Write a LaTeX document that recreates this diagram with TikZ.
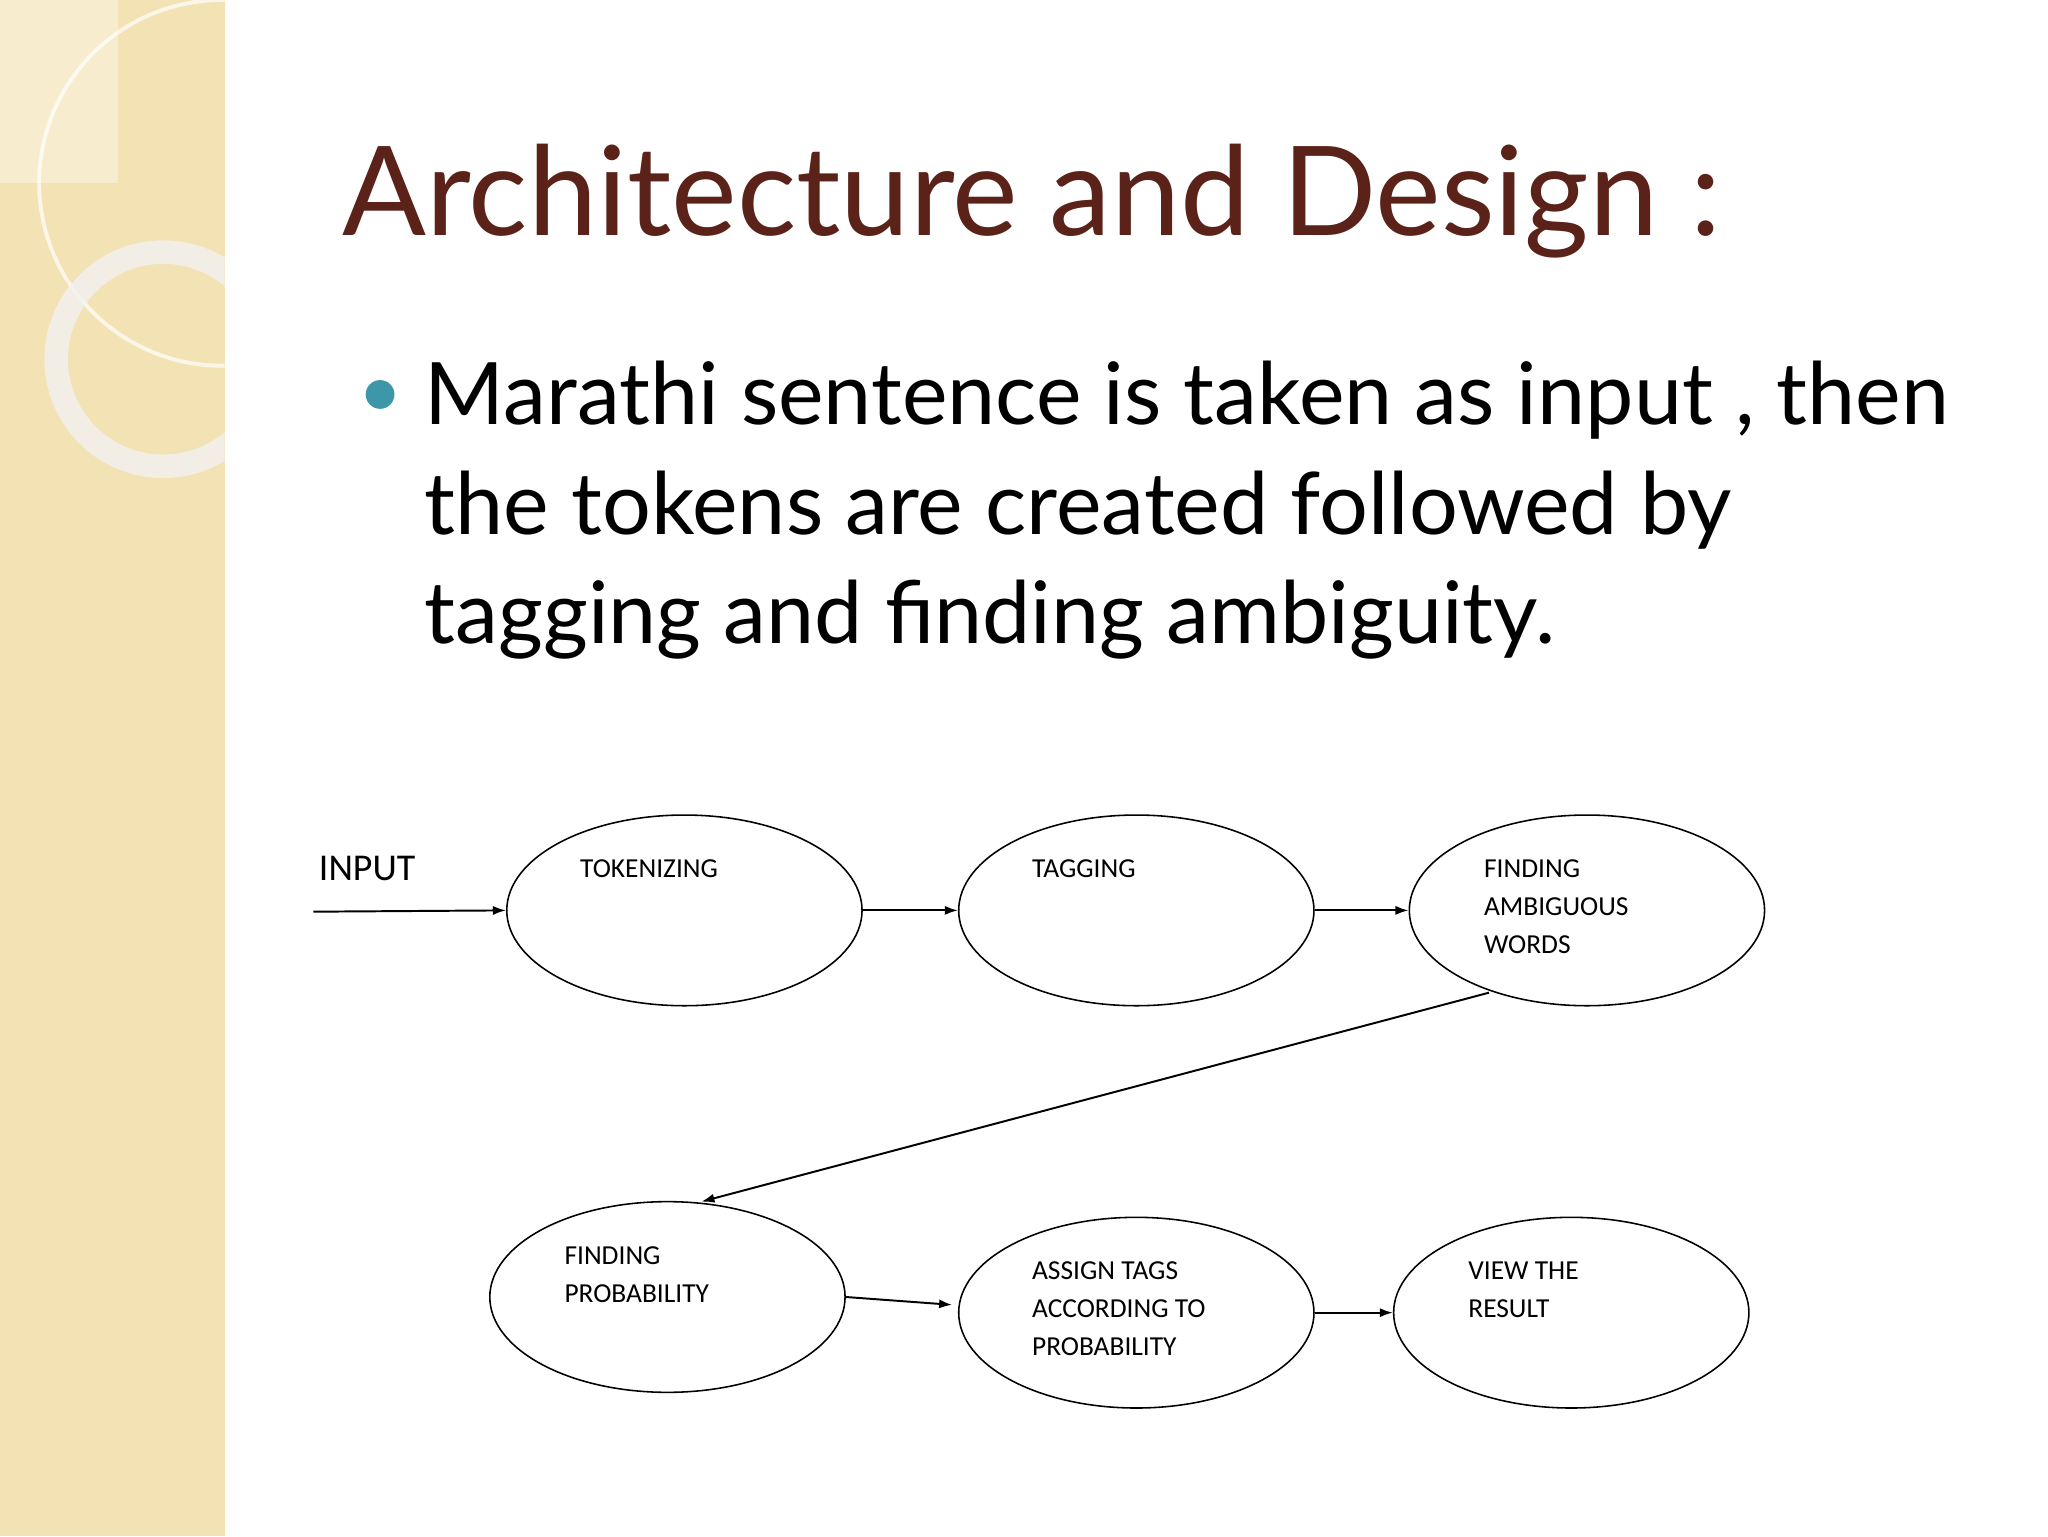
\documentclass[tikz,border=0pt]{standalone}
\usepackage{fontspec}
\setmainfont{Lato}
\newfontfamily\diag{Carlito}
\usetikzlibrary{shapes.geometric,arrows.meta}
\definecolor{beige}{HTML}{F3E2B4}
\definecolor{titlec}{HTML}{5A2218}
\definecolor{teal}{HTML}{3E97A8}
\begin{document}
\begin{tikzpicture}[x=1pt,y=-1pt,
  ell/.style={draw,ellipse,line width=1.2pt,minimum width=272pt,minimum height=146pt,inner sep=0pt},
  lab/.style={anchor=north west,align=left,font=\diag\fontsize{21}{29}\selectfont,inner sep=0pt},
  arr/.style={-{Latex[length=10pt,width=7pt]},line width=1.5pt}]
\useasboundingbox (0,0) rectangle (1568,1176);
\fill[white] (0,0) rectangle (1568,1176);
\fill[beige] (0,0) rectangle (172,1176);
\fill[white,opacity=0.35] (0,0) rectangle (90,140);
\begin{scope}
\clip (0,0) rectangle (172,1176);
\draw[white,opacity=0.7,line width=3pt] (170,140) circle (140);
\draw[white!90!gray,opacity=0.8,line width=18pt] (125,275) circle (82);
\end{scope}
\node[anchor=base west,text=titlec,font=\fontsize{95}{100}\selectfont,inner sep=0pt] (title) at (262,180) {Architecture and Design :};
\fill[teal] (291,302) circle (11);
\node[anchor=base west,align=left,font=\fontsize{66}{84}\selectfont,inner sep=0pt] (body) at (325,325) {Marathi sentence is taken as input , then};
\node[anchor=base west,font=\fontsize{66}{84}\selectfont,inner sep=0pt] (body2) at (325,409) {the tokens are created followed by};
\node[anchor=base west,font=\fontsize{66}{84}\selectfont,inner sep=0pt] (body3) at (325,493) {tagging and finding ambiguity.};
\node[ell] (e1) at (524,697) {};
\node[ell] (e2) at (870,697) {};
\node[ell] (e3) at (1215,697) {};
\node[ell] (e4) at (511,993) {};
\node[ell] (e5) at (870,1005) {};
\node[ell] (e6) at (1203,1005) {};
\node[lab] (t1) at (444,658) {TOKENIZING};
\node[lab] (t2) at (790,658) {TAGGING};
\node[lab] (t3) at (1136,658) {FINDING\\AMBIGUOUS\\WORDS};
\node[lab] (t4) at (432,954) {FINDING\\PROBABILITY};
\node[lab] (t5) at (790,966) {ASSIGN TAGS\\ACCORDING TO\\PROBABILITY};
\node[lab] (t6) at (1124,966) {VIEW THE\\RESULT};
\node[anchor=base west,font=\diag\fontsize{29}{30}\selectfont,inner sep=0pt] (inp) at (244,674) {INPUT};
\coordinate (is) at (240,698);
\draw[arr] (is) -- (e1.west);
\draw[arr] (e1.east) -- (e2.west);
\draw[arr] (e2.east) -- (e3.west);
\draw[arr] (1140,760) -- (537,920);
\draw[arr] (e4.east) -- (729,999);
\draw[arr] (e5.east) -- (e6.west);
\end{tikzpicture}
\end{document}
